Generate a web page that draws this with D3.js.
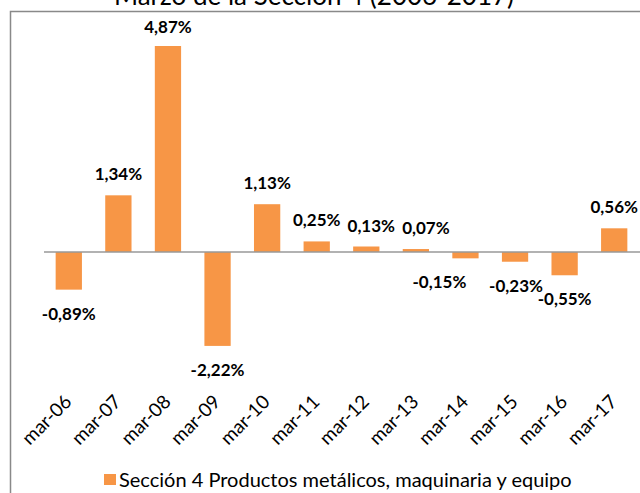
<!DOCTYPE html>
<html>
<head>
<meta charset="utf-8">
<script src="https://cdn.jsdelivr.net/npm/d3@7"></script>
<style>
  body { margin: 0; background: #fff; }
  svg { display: block; font-family: Lato, "Open Sans", sans-serif; }
</style>
</head>
<body>
<div id="chart"></div>
<script>
// data
var categories = ["mar-06","mar-07","mar-08","mar-09","mar-10","mar-11","mar-12","mar-13","mar-14","mar-15","mar-16","mar-17"];
var values = [-0.89, 1.34, 4.87, -2.22, 1.13, 0.25, 0.13, 0.07, -0.15, -0.23, -0.55, 0.56];
var seriesName = "Sección 4 Productos metálicos, maquinaria y equipo";
var title = "Marzo  de la Sección 4 (2006-2017)";

// hand-moved data labels, like in the original sheet (px)
var labelDx = [0, 0, 0, 0, 0, 0, 5, 10, -26, 1, 0, 0];

var W = 640, H = 493;
var svg = d3.select("#chart").append("svg")
    .attr("width", W)
    .attr("height", H);

// chart frame (cut at right and bottom like the original)
svg.append("rect")
    .attr("x", 10.5).attr("y", 11.5)
    .attr("width", 700).attr("height", 600)
    .attr("fill", "none")
    .attr("stroke", "#898989")
    .attr("stroke-width", 1.5);

// title, mostly cut off at the top
svg.append("text")
    .attr("x", 314).attr("y", 5)
    .attr("text-anchor", "middle")
    .attr("font-size", 26)
    .attr("fill", "#000")
    .text(title);

var x = d3.scaleBand().domain(categories).range([44, 639]).paddingInner(0.47).paddingOuter(0.235);
var y = d3.scaleLinear().domain([0, 4.87]).range([252, 46]);

var fmt = function(v){ return d3.format(".2f")(v).replace(".", ",").replace("\u2212", "-") + "%"; };

var g = svg.append("g");

g.selectAll("rect.bar")
    .data(values)
    .enter().append("rect")
    .attr("class", "bar")
    .attr("x", function(d, i){ return x(categories[i]); })
    .attr("width", x.bandwidth())
    .attr("y", function(d){ return d >= 0 ? y(d) : y(0); })
    .attr("height", function(d){ return Math.abs(y(d) - y(0)); })
    .attr("fill", "#F79646");

// zero line
svg.append("line")
    .attr("x1", 44).attr("x2", 640)
    .attr("y1", y(0)).attr("y2", y(0))
    .attr("stroke", "#999")
    .attr("stroke-width", 1.5);

// value labels
g.selectAll("text.val")
    .data(values)
    .enter().append("text")
    .attr("class", "val")
    .attr("x", function(d, i){ return x(categories[i]) + x.bandwidth() / 2 + labelDx[i]; })
    .attr("y", function(d){ return d >= 0 ? Math.max(33, y(d) - 15) : y(d) + 30; })
    .attr("text-anchor", "middle")
    .attr("font-size", 17)
    .attr("font-weight", "bold")
    .attr("fill", "#000")
    .text(fmt);

// category labels, rotated
var xAxis = d3.axisBottom(x).tickSize(0).tickPadding(0);
var gx = svg.append("g")
    .call(xAxis);
gx.select(".domain").remove();
gx.selectAll("text")
    .attr("font-size", 19)
    .attr("font-family", "Lato, 'Open Sans', sans-serif")
    .attr("fill", "#000")
    .attr("text-anchor", "end")
    .attr("y", 0)
    .attr("dy", 0)
    .attr("transform", "translate(4,403) rotate(-45)");

// legend
var lg = svg.append("g").attr("transform", "translate(104,474)");
lg.append("rect").attr("width", 12).attr("height", 11).attr("fill", "#F79646");
lg.append("text")
    .attr("x", 15).attr("y", 13)
    .attr("font-size", 20)
    .attr("fill", "#000")
    .text(seriesName);
</script>
</body>
</html>
